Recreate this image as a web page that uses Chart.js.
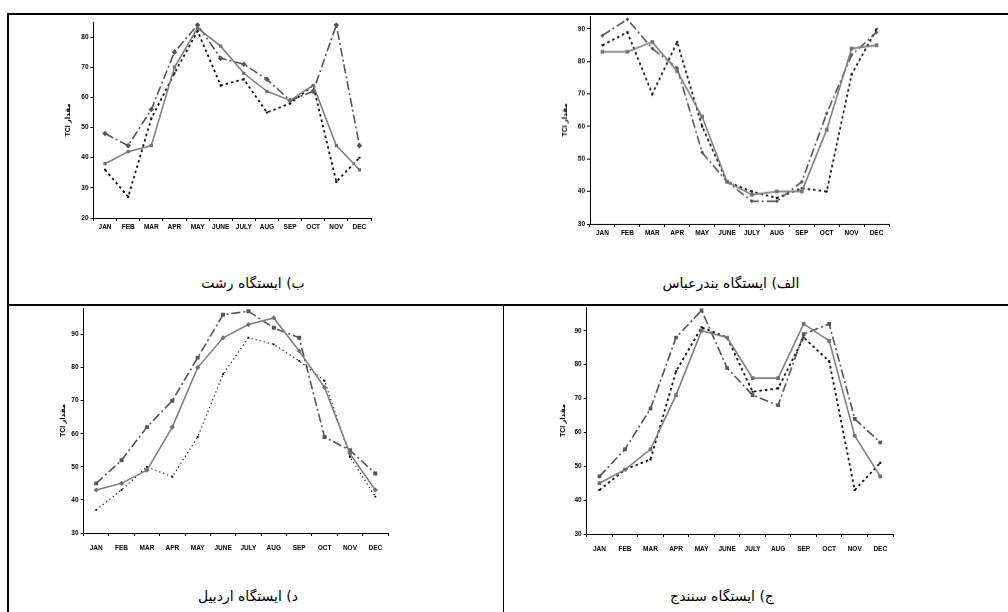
<!DOCTYPE html>
<html>
<head>
<meta charset="utf-8">
<script src="https://cdn.jsdelivr.net/npm/chart.js@4.4.1/dist/chart.umd.min.js"></script>
<style>
  html, body { margin: 0; padding: 0; background: #fff; }
  body { width: 1008px; height: 612px; position: relative; overflow: hidden; }
  canvas { position: absolute; }
  .line { position: absolute; background: #000; }
  .cap { position: absolute; font-family: "DejaVu Sans", "Noto Sans", sans-serif; font-size: 14px; color: #000; direction: rtl; white-space: nowrap; transform: translateX(-50%); }
</style>
</head>
<body>
<div class="line" style="left:8px; top:13px; width:1000px; height:2px;"></div>
<div class="line" style="left:7px; top:13px; width:2px; height:599px;"></div>
<div class="line" style="left:8px; top:304px; width:1000px; height:2px;"></div>
<div class="line" style="left:503px; top:305px; width:1px; height:307px;"></div>

<canvas id="c1"></canvas>
<canvas id="c2"></canvas>
<canvas id="c3"></canvas>
<canvas id="c4"></canvas>

<div class="cap" style="left:253px; top:275px;">ب) ایستگاه رشت</div>
<div class="cap" style="left:731px; top:275px;">الف) ایستگاه بندرعباس</div>
<div class="cap" style="left:248px; top:588px;">د) ایستگاه اردبیل</div>
<div class="cap" style="left:722px; top:588px;">ج) ایستگاه سنندج</div>

<script>
const months = ['JAN','FEB','MAR','APR','MAY','JUNE','JULY','AUG','SEP','OCT','NOV','DEC'];
const yTitle = 'TCI مقدار';

// ب) ایستگاه رشت
const rashtSolid   = [38,42,44,70,83,77,68,62,59,64,44,36];
const rashtDashDot = [48,44,56,75,84,73,71,66,59,62,84,44];
const rashtDotted  = [36,27,53,68,82,64,66,55,58,64,32,40];

// الف) ایستگاه بندرعباس
const bandarSolid   = [83,83,86,77,63,43,39,40,40,59,84,85];
const bandarDashDot = [88,93,84,78,52,43,37,37,43,64,82,89];
const bandarDotted  = [85,89,70,86,60,43,40,38,41,40,76,90];

// د) ایستگاه اردبیل
const ardabilSolid   = [43,45,49,62,80,89,93,95,85,74,54,43];
const ardabilDashDot = [45,52,62,70,83,96,97,92,89,59,55,48];
const ardabilDotted  = [37,43,50,47,59,78,89,87,82,76,53,41];

// ج) ایستگاه سنندج
const sanandajSolid   = [45,49,55,71,90,88,76,76,92,87,59,47];
const sanandajDashDot = [47,55,67,88,96,79,71,68,89,92,64,57];
const sanandajDotted  = [43,49,52,78,91,88,72,73,88,81,43,51];

const FONT = '"Liberation Sans", Arial, "DejaVu Sans", sans-serif';

function makeChart(id, box, series, styles) {
  const cv = document.getElementById(id);
  cv.width = box.w; cv.height = box.h;
  cv.style.left = box.x + 'px'; cv.style.top = box.y + 'px';
  cv.style.width = box.w + 'px'; cv.style.height = box.h + 'px';
  const datasets = [
    { data: series[0], borderColor: '#808080', borderWidth: 1.6, borderDash: [],
      pointStyle: styles.solidPt, pointRadius: styles.solidR, pointBackgroundColor: '#707070', pointBorderColor: '#707070', pointBorderWidth: 0 },
    { data: series[1], borderColor: '#555555', borderWidth: 1.6, borderDash: [9,3,2,3],
      pointStyle: styles.ddPt, pointRadius: styles.ddR, pointBackgroundColor: '#555555', pointBorderColor: '#555555', pointBorderWidth: 0 },
    { data: series[2], borderColor: '#111111', borderWidth: styles.dotW, borderDash: styles.dotDash,
      pointStyle: 'rect', pointRadius: styles.dotR, pointBackgroundColor: '#111111', pointBorderColor: '#111111', pointBorderWidth: 0 }
  ];
  datasets.forEach(d => { d.tension = 0; d.fill = false; d.label = ''; });
  return new Chart(cv, {
    type: 'line',
    data: { labels: months, datasets },
    options: {
      responsive: false,
      animation: false,
      devicePixelRatio: 1,
      layout: { padding: { top: 10, right: 10, left: 0, bottom: 0 } },
      plugins: { legend: { display: false }, tooltip: { enabled: false } },
      scales: {
        x: {
          type: 'category', offset: true,
          grid: { offset: true, drawOnChartArea: false, drawTicks: true, tickLength: 3, color: '#000', lineWidth: 1 },
          border: { display: true, color: '#000', width: 1 },
          ticks: { color: '#000', font: { family: FONT, size: 6.5, weight: 'bold' }, padding: box.xpad, maxRotation: 0, autoSkip: false },
          afterFit: s => { s.height = 18; }
        },
        y: {
          min: box.min, max: box.max,
          grid: { drawOnChartArea: false, drawTicks: true, tickLength: 3, color: '#000', lineWidth: 1 },
          border: { display: true, color: '#000', width: 1 },
          ticks: { stepSize: 10, includeBounds: false, color: '#000', font: { family: FONT, size: 6.5, weight: 'bold' }, padding: 2 },
          afterBuildTicks: s => { s.ticks = s.ticks.filter(t => t.value % 10 === 0); },
          title: { display: true, text: yTitle, color: '#000', font: { family: FONT, size: 7, weight: 'bold' }, padding: { top: 2, bottom: 0 } },
          afterFit: s => { s.width = box.wy; }
        }
      }
    }
  });
}

// box: canvas x,y,w,h; wy = y-scale width; plot top = y+10, plot bottom = y+h-18
makeChart('c1', { x: 62, y: 12, w: 319, h: 224, wy: 31.5, min: 20, max: 85, xpad: 2 },
  [rashtSolid, rashtDashDot, rashtDotted],
  { solidPt: 'rect', solidR: 2.3, ddPt: 'rectRot', ddR: 2.8, dotW: 1.8, dotDash: [2.5,3], dotR: 1.5 });

makeChart('c2', { x: 559, y: 6, w: 340, h: 235.5, wy: 31, min: 30, max: 94, xpad: 2 },
  [bandarSolid, bandarDashDot, bandarDotted],
  { solidPt: 'rect', solidR: 2.6, ddPt: 'rectRot', ddR: 2, dotW: 1.8, dotDash: [2.5,3], dotR: 1.5 });

makeChart('c3', { x: 56.5, y: 297.7, w: 341, h: 253.6, wy: 26.5, min: 30, max: 98, xpad: 8 },
  [ardabilSolid, ardabilDashDot, ardabilDotted],
  { solidPt: 'rectRot', solidR: 2.6, ddPt: 'rect', ddR: 2.8, dotW: 1.2, dotDash: [1.2,3], dotR: 1.3 });

makeChart('c4', { x: 557, y: 297.3, w: 346, h: 255, wy: 29.7, min: 30, max: 97, xpad: 8 },
  [sanandajSolid, sanandajDashDot, sanandajDotted],
  { solidPt: 'rect', solidR: 2.6, ddPt: 'rect', ddR: 2.6, dotW: 1.8, dotDash: [2.5,3], dotR: 1.5 });
</script>
</body>
</html>
